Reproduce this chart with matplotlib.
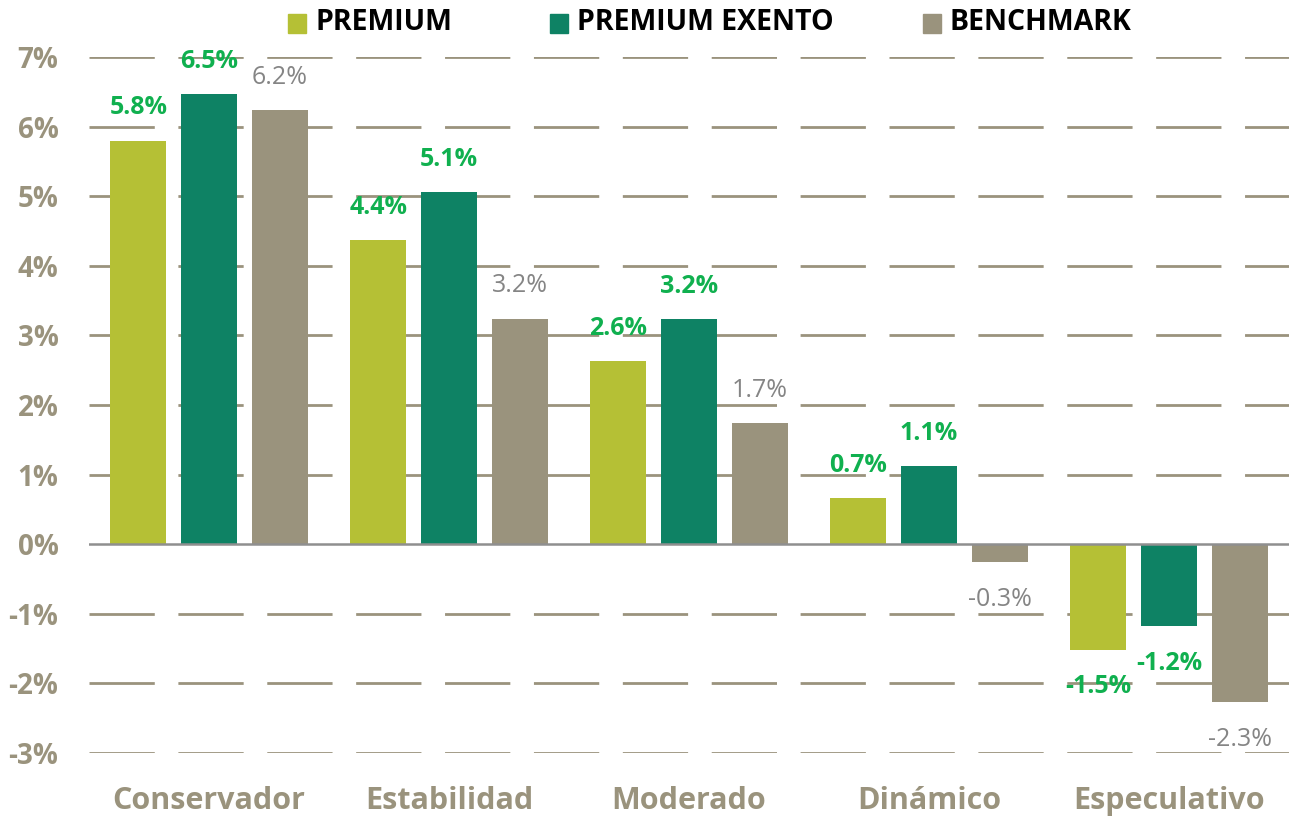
import matplotlib
matplotlib.use("Agg")
import matplotlib.pyplot as plt
from matplotlib.patches import Rectangle
import numpy as np

categories = ["Conservador", "Estabilidad", "Moderado", "Dinámico", "Especulativo"]
series_names = ["PREMIUM", "PREMIUM EXENTO", "BENCHMARK"]
premium = [5.80, 4.37, 2.63, 0.66, -1.52]
premium_exento = [6.47, 5.06, 3.23, 1.12, -1.18]
benchmark = [6.24, 3.24, 1.74, -0.26, -2.27]
yticks = [-3, -2, -1, 0, 1, 2, 3, 4, 5, 6, 7]

colors = ["#B5C035", "#0E8264", "#9A937D"]
label_colors = ["#10B04F", "#10B04F", "#858585"]
label_weights = ["bold", "bold", "normal"]

plt.rcParams['font.family'] = ['Open Sans', 'DejaVu Sans']

W, H = 1290, 819
fig = plt.figure(figsize=(W / 100, H / 100), dpi=100)
ax = fig.add_axes([89 / W, 1 - 753 / H, 1200 / W, (753 - 57) / H])

x = np.arange(len(categories))
width = 0.233
offsets = [-0.294, 0, 0.294]
all_series = [premium, premium_exento, benchmark]

for t in yticks:
    if t == 0:
        continue
    ax.axhline(t, color="#9A937D", lw=2, dashes=(23.5, 8.5), zorder=0)
ax.axhline(0, color="#8F8F8F", lw=1.8, zorder=3)

for i, (vals, off) in enumerate(zip(all_series, offsets)):
    ax.bar(x + off, vals, width, color=colors[i], zorder=2, label=series_names[i])
    for xi, v in zip(x + off, vals):
        yy = v + 0.47 if v >= 0 else v - 0.53
        ax.text(xi, yy, f"{v:.1f}%", ha="center", va="center",
                color=label_colors[i], fontsize=18, fontweight=label_weights[i], zorder=4)

ax.set_xlim(-0.5, len(categories) - 0.5)
ax.set_ylim(-3, 7)
ax.set_yticks(yticks)
ax.set_yticklabels([f"{t}%" for t in yticks])
ax.set_xticks(x)
ax.set_xticklabels(categories)
ax.tick_params(axis="y", length=0, pad=22, labelsize=20, labelcolor="#9A937D")
ax.tick_params(axis="x", length=0, pad=24, labelsize=22, labelcolor="#9A937D")
for lab in ax.get_yticklabels() + ax.get_xticklabels():
    lab.set_fontweight("bold")
for s in ax.spines.values():
    s.set_visible(False)

# legend (manual, pixel layout)
legend_x = [288, 550, 923]
for lx, name, c in zip(legend_x, series_names, colors):
    fig.patches.append(Rectangle((lx / W, 1 - 33 / H), 18 / W, 19 / H,
                                 transform=fig.transFigure, color=c))
    fig.text((lx + 27) / W, 1 - 22 / H, name, ha="left", va="center",
             fontsize=20.5, fontweight="bold", color="black")

fig.savefig("out.png", dpi=100)
